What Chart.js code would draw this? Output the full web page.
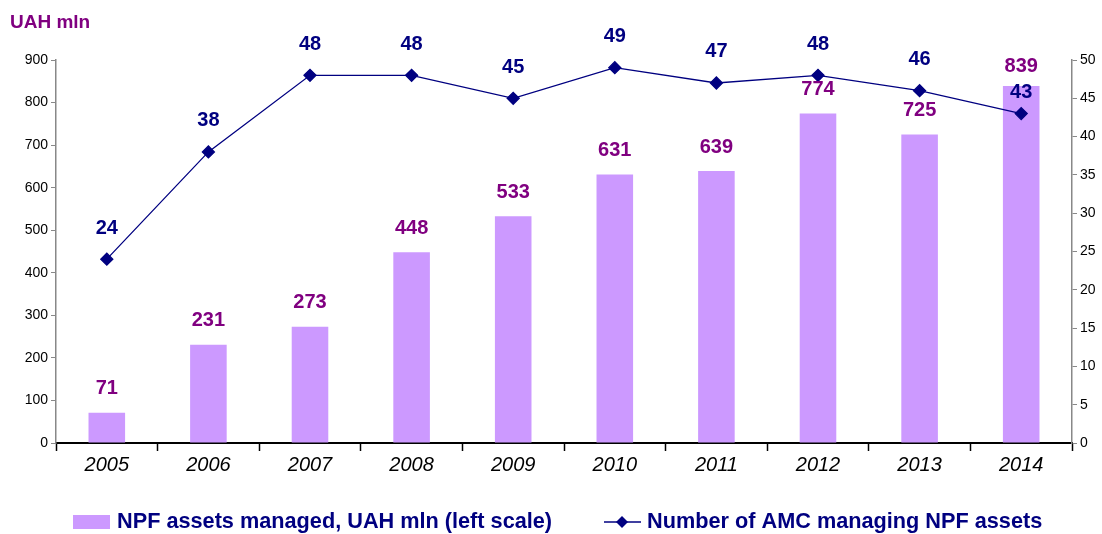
<!DOCTYPE html>
<html>
<head>
<meta charset="utf-8">
<script src="https://cdn.jsdelivr.net/npm/chart.js@4.4.0/dist/chart.umd.min.js"></script>
<style>
  html, body { margin: 0; padding: 0; background: #fff; }
  #wrap { position: relative; width: 1102px; height: 534px; }
  #unit { position: absolute; left: 10px; top: 11px; font: bold 19px "Liberation Sans", Arial, sans-serif; color: #800080; }
</style>
</head>
<body>
<div id="wrap">
  <div id="unit">UAH mln</div>
  <canvas id="chart" width="1102" height="534"></canvas>
</div>
<script>
// Data
const years = ['2005', '2006', '2007', '2008', '2009', '2010', '2011', '2012', '2013', '2014'];
const assets = [71, 231, 273, 448, 533, 631, 639, 774, 725, 839];
const amcCount = [24, 38, 48, 48, 45, 49, 47, 48, 46, 43];

const barColor = '#cc99ff';
const lineColor = '#000080';
const font = '"Liberation Sans", Arial, sans-serif';

// value labels above bars and points
const valueLabels = {
  id: 'valueLabels',
  afterDatasetsDraw(chart) {
    const ctx = chart.ctx;
    ctx.save();
    ctx.font = 'bold 20px ' + font;
    ctx.textAlign = 'center';
    ctx.textBaseline = 'middle';
    const last = years.length - 1;
    chart.getDatasetMeta(1).data.forEach((el, i) => {
      ctx.fillStyle = '#800080';
      ctx.fillText(assets[i], el.x, el.y - (i === last ? 19 : 24));
    });
    chart.getDatasetMeta(0).data.forEach((el, i) => {
      ctx.fillStyle = lineColor;
      ctx.fillText(amcCount[i], el.x, el.y - (i === last ? 21 : 31));
    });
    ctx.restore();
  }
};

// legend at the bottom
const bottomLegend = {
  id: 'bottomLegend',
  afterDraw(chart) {
    const ctx = chart.ctx;
    const y = 522;
    ctx.save();
    ctx.fillStyle = barColor;
    ctx.fillRect(73, y - 7, 37, 14);
    ctx.font = 'bold 21.7px ' + font;
    ctx.textBaseline = 'middle';
    ctx.fillStyle = lineColor;
    ctx.fillText('NPF assets managed, UAH mln (left scale)', 117, y);
    ctx.strokeStyle = lineColor;
    ctx.lineWidth = 1.5;
    ctx.beginPath();
    ctx.moveTo(604, y);
    ctx.lineTo(641, y);
    ctx.stroke();
    ctx.beginPath();
    ctx.moveTo(622, y - 6);
    ctx.lineTo(628, y);
    ctx.lineTo(622, y + 6);
    ctx.lineTo(616, y);
    ctx.closePath();
    ctx.fill();
    ctx.fillText('Number of AMC managing NPF assets', 647, y);
    ctx.restore();
  }
};

new Chart(document.getElementById('chart'), {
  data: {
    labels: years,
    datasets: [
      {
        type: 'line',
        label: 'Number of AMC managing NPF assets',
        data: amcCount,
        yAxisID: 'y1',
        borderColor: lineColor,
        backgroundColor: lineColor,
        borderWidth: 1.3,
        pointStyle: 'rectRot',
        pointRadius: 6,
        pointHoverRadius: 6,
        tension: 0,
        order: 0
      },
      {
        type: 'bar',
        label: 'NPF assets managed, UAH mln (left scale)',
        data: assets,
        yAxisID: 'y',
        backgroundColor: barColor,
        barPercentage: 0.36,
        categoryPercentage: 1,
        order: 1
      }
    ]
  },
  options: {
    responsive: false,
    animation: false,
    layout: { padding: { top: 60, bottom: 55, left: 0, right: 0 } },
    plugins: { legend: { display: false }, tooltip: { enabled: false } },
    scales: {
      x: {
        offset: true,
        grid: { drawOnChartArea: false, offset: true, color: '#000', tickLength: 8, tickWidth: 1.5 },
        border: { color: '#000', width: 2 },
        ticks: { color: '#000', font: { family: font, size: 20, style: 'italic' }, padding: 2 }
      },
      y: {
        position: 'left',
        min: 0, max: 900,
        afterFit(s) { s.width = 56; },
        grid: { drawOnChartArea: false, color: '#888', tickLength: 5 },
        border: { color: '#888', width: 1.5 },
        ticks: { stepSize: 100, color: '#000', font: { family: font, size: 14 }, padding: 3 }
      },
      y1: {
        position: 'right',
        min: 0, max: 50,
        afterFit(s) { s.width = 30; },
        grid: { drawOnChartArea: false, color: '#888', tickLength: 5 },
        border: { color: '#888', width: 1.5 },
        ticks: { stepSize: 5, color: '#000', font: { family: font, size: 14 }, padding: 3 }
      }
    }
  },
  plugins: [valueLabels, bottomLegend]
});
</script>
</body>
</html>
